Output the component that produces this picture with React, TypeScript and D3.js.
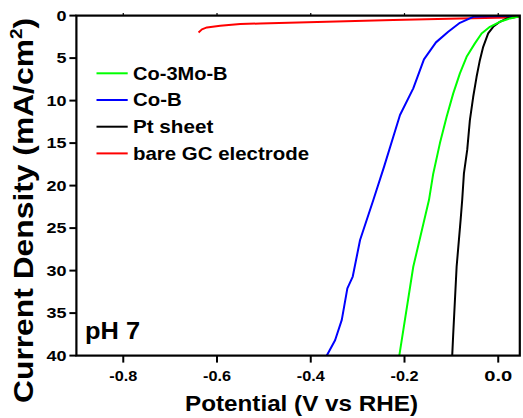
import React from "react";
import * as d3 from "d3";

const W = 523;
const H = 418;

const xTicks = [-0.8, -0.6, -0.4, -0.2, 0.0];
const yTicks = [0, 5, 10, 15, 20, 25, 30, 35, 40];

// Co-3Mo-B (green)
const coMoBV = [0.044, 0.0248, 0.0035, -0.0178, -0.0355, -0.0498, -0.0675, -0.0818, -0.096, -0.1101, -0.1244, -0.1387, -0.1478, -0.1813, -0.2111];
const coMoBJ = [0.1, 0.33, 0.73, 1.32, 2.1, 3.27, 4.85, 6.8, 9.15, 11.9, 15.0, 18.6, 21.7, 29.55, 40];

// Co-B (blue)
const coBV = [0.03, -0.02, -0.0534, -0.0818, -0.1067, -0.1329, -0.1585, -0.1813, -0.2096, -0.2239, -0.2437, -0.2665, -0.2948, -0.3104, -0.3219, -0.3338, -0.3481, -0.3658];
const coBJ = [0.05, 0.08, 0.14, 0.85, 1.9, 3.15, 5.15, 8.56, 11.7, 14.26, 17.8, 21.7, 26.4, 30.7, 32.1, 35.8, 38.2, 40];

// Pt sheet (black)
const ptV = [0.044, 0.0177, 0.0035, -0.0108, -0.0215, -0.0321, -0.0392, -0.0462, -0.0534, -0.0605, -0.0662, -0.0732, -0.0769, -0.0803, -0.0888, -0.096, -0.0982];
const ptJ = [0.12, 0.35, 0.73, 1.32, 2.1, 3.67, 5.24, 7.2, 9.55, 12.3, 15.8, 18.56, 21.7, 24.06, 29.55, 37.4, 40];

// bare GC electrode (red)
const gcV = [-0.6394, -0.6322, -0.6215, -0.5932, -0.5505, -0.5079, -0.3658, -0.2239, -0.0818, 0.0248, 0.044];
const gcJ = [1.98, 1.62, 1.39, 1.2, 1.0, 0.92, 0.73, 0.53, 0.33, 0.21, 0.14];

const seriesNames = ["Co-3Mo-B", "Co-B", "Pt sheet", "bare GC electrode"];
const seriesColors = ["#00ff00", "#0000ff", "#000000", "#ff0000"];
const legendLengths = [94.6, 48.7, 80.3, 176];

const FONT = "'Liberation Sans', Arial, Helvetica, sans-serif";

export default function App() {
  const x = d3.scaleLinear().domain([-0.9, 0.046]).range([76.4, 519.8]);
  const y = d3.scaleLinear().domain([0, 40]).range([15.6, 355.6]);
  const line = d3
    .line<[number, number]>()
    .x((d) => x(d[0]))
    .y((d) => y(d[1]));

  const zip = (a: number[], b: number[]) => a.map((v, i) => [v, b[i]] as [number, number]);
  const paths = [
    { d: line(zip(gcV, gcJ)), c: seriesColors[3] },
    { d: line(zip(coBV, coBJ)), c: seriesColors[1] },
    { d: line(zip(ptV, ptJ)), c: seriesColors[2] },
    { d: line(zip(coMoBV, coMoBJ)), c: seriesColors[0] },
  ];

  const [x0, x1] = x.range();
  const [y0, y1] = y.range();
  const fmt = (t: number) => d3.format(".1f")(t).replace("\u2212", "-");

  return (
    <svg width={W} height={H} style={{ position: "absolute", left: 0, top: 0, background: "#fff" }} fontFamily={FONT} fontWeight="bold">
      <defs>
        <clipPath id="plot">
          <rect x={x0} y={y0} width={x1 - x0} height={y1 - y0} />
        </clipPath>
      </defs>
      <g clipPath="url(#plot)">
        {paths.map((p, i) => (
          <path key={i} d={p.d || ""} fill="none" stroke={p.c} strokeWidth={2} strokeLinejoin="round" />
        ))}
      </g>
      {/* frame */}
      <rect x={x0} y={y0} width={x1 - x0} height={y1 - y0} fill="none" stroke="#000" strokeWidth={2.2} />
      {/* x ticks */}
      {xTicks.map((t) => (
        <g key={"x" + t}>
          <line x1={x(t)} x2={x(t)} y1={y1} y2={y1 + 7} stroke="#000" strokeWidth={2} />
          <line x1={x(t)} x2={x(t)} y1={y0} y2={y0 - 2.5} stroke="#000" strokeWidth={1.2} />
          <text x={x(t)} y={381} textAnchor="middle" fontSize={15} textLength={28} lengthAdjust="spacingAndGlyphs">
            {fmt(t)}
          </text>
        </g>
      ))}
      {/* y ticks */}
      {yTicks.map((t) => (
        <g key={"y" + t}>
          <line x1={x0} x2={x0 - 7} y1={y(t)} y2={y(t)} stroke="#000" strokeWidth={2} />
          <text x={66.5} y={y(t) + 5} textAnchor="end" fontSize={14} textLength={t >= 10 ? 20 : 10} lengthAdjust="spacingAndGlyphs">
            {String(t)}
          </text>
        </g>
      ))}
      {/* axis titles */}
      <text x={301.5} y={410.5} textAnchor="middle" fontSize={22} textLength={233} lengthAdjust="spacingAndGlyphs">
        Potential (V vs RHE)
      </text>
      <text transform="translate(33,210.5) rotate(-90)" textAnchor="middle" fontSize={27} textLength={385} lengthAdjust="spacingAndGlyphs">
        Current Density (mA/cm<tspan fontSize={16} dy={-11}>2</tspan><tspan dy={11}>)</tspan>
      </text>
      {/* legend */}
      {seriesNames.map((n, i) => {
        const ly = 73.3 + i * 26.7;
        return (
          <g key={n}>
            <line x1={96.5} x2={127.7} y1={ly} y2={ly} stroke={seriesColors[i]} strokeWidth={2} />
            <text x={133} y={ly + 6.3} fontSize={18.6} textLength={legendLengths[i]} lengthAdjust="spacingAndGlyphs">
              {n}
            </text>
          </g>
        );
      })}
      <text x={85} y={339.3} fontSize={23} textLength={55} lengthAdjust="spacingAndGlyphs">
        pH 7
      </text>
    </svg>
  );
}
